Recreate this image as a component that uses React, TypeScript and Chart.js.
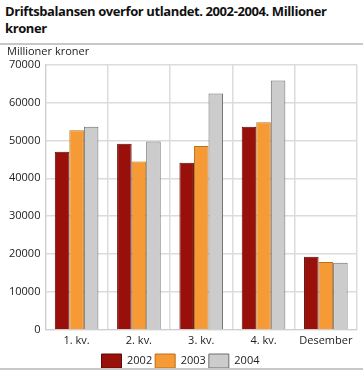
import React, { useEffect, useRef } from "react";
import { Chart, registerables } from "chart.js";

Chart.register(...registerables);

const categories = ["1. kv.", "2. kv.", "3. kv.", "4. kv.", "Desember"];
const values2002 = [47000, 49100, 44100, 53600, 19300];
const values2003 = [52650, 44400, 48500, 54800, 17900];
const values2004 = [53600, 49700, 62350, 65800, 17700];
const seriesLabels = ["2002", "2003", "2004"];
const FONT = "'Open Sans', 'DejaVu Sans', sans-serif";

export default function App() {
  const ref = useRef<HTMLCanvasElement | null>(null);
  useEffect(() => {
    document.body.style.margin = "0";
    const chart = new Chart(ref.current!, {
      type: "bar",
      data: {
        labels: categories,
        datasets: [
          { label: seriesLabels[0], data: values2002, backgroundColor: "#990f0a", borderColor: "#5c0a06", borderWidth: 1 },
          { label: seriesLabels[1], data: values2003, backgroundColor: "#f59a34", borderColor: "#b7701f", borderWidth: 1 },
          { label: seriesLabels[2], data: values2004, backgroundColor: "#cccccc", borderColor: "#6e6e6e", borderWidth: 1 },
        ],
      },
      options: {
        animation: false,
        responsive: false,
        maintainAspectRatio: false,
        layout: { padding: { top: 2, right: 6, left: 4, bottom: 0 } },
        datasets: { bar: { categoryPercentage: 0.7, barPercentage: 1 } },
        plugins: {
          tooltip: { enabled: false },
          legend: {
            position: "bottom",
            labels: {
              boxWidth: 20,
              boxHeight: 14,
              padding: 3,
              color: "#222",
              font: { family: FONT, size: 11 },
            },
          },
        },
        scales: {
          x: {
            grid: { color: "#dcdcdc", lineWidth: 1.5, drawTicks: false, offset: true },
            border: { color: "#cfcfcf" },
            ticks: { color: "#222", font: { family: FONT, size: 11 }, padding: 4 },
          },
          y: {
            min: 0,
            max: 70000,
            grid: { color: "#dcdcdc", lineWidth: 1.5, drawTicks: false },
            border: { color: "#cfcfcf" },
            ticks: {
              stepSize: 10000,
              color: "#222",
              font: { family: FONT, size: 11 },
              padding: 5,
              callback: (v: any) => String(v),
            },
          },
        },
      },
    });
    return () => chart.destroy();
  }, []);

  return (
    <div style={{ position: "relative", width: 363, height: 375, background: "#fff", fontFamily: FONT, overflow: "hidden" }}>
      <canvas ref={ref} width={363} height={325} style={{ position: "absolute", left: 0, top: 53 }} />
      <div style={{ position: "absolute", left: 5, top: 3, width: 340, fontWeight: "bold", fontSize: 13, letterSpacing: "-0.4px", lineHeight: "17px", color: "#111" }}>
        Driftsbalansen overfor utlandet. 2002-2004. Millioner kroner
      </div>
      <div style={{ position: "absolute", left: 0, top: 43, width: 363, height: 2, background: "#c8c8c8" }} />
      <div style={{ position: "absolute", left: 7, top: 44, fontSize: 11, lineHeight: "14px", color: "#222" }}>Millioner kroner</div>
      <div style={{ position: "absolute", left: 0, top: 368, width: 363, height: 2, background: "#c8c8c8" }} />
    </div>
  );
}
